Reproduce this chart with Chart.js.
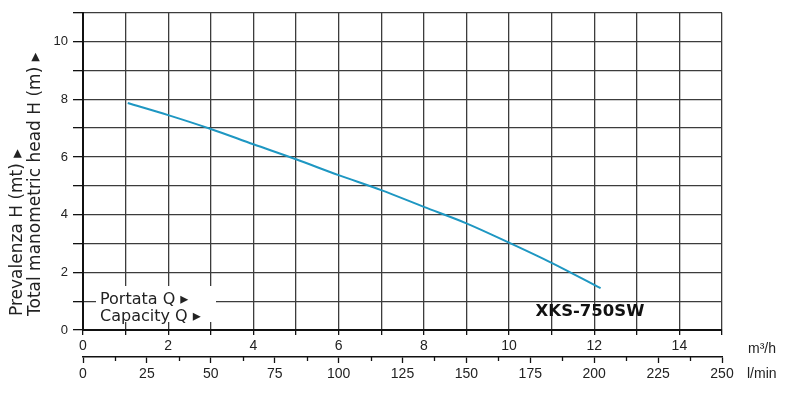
<!DOCTYPE html>
<html><head><meta charset="utf-8">
<script src="https://cdn.jsdelivr.net/npm/chart.js@4"></script>
<style>html,body{margin:0;padding:0;background:#fff}#wrap{width:800px;height:395px}</style>
</head><body><div id="wrap"><canvas id="c" width="800" height="395"></canvas></div>
<script>
// ---- data ----
const flowM3h = [1.05, 2, 3, 4, 5, 6, 7, 8, 9, 10, 11, 12.15];
const headM   = [7.87, 7.45, 6.97, 6.44, 5.92, 5.37, 4.85, 4.27, 3.70, 3.03, 2.33, 1.45];
const m3hTickLabels = [0, 2, 4, 6, 8, 10, 12, 14];
const lminTickLabels = [0, 25, 50, 75, 100, 125, 150, 175, 200, 225, 250];
const headTickLabels = [0, 2, 4, 6, 8, 10];
const yTitleLines = ['Prevalenza H (mt) \u25B8', 'Total manometric head H (m) \u25B8'];
const legendLines = ['Portata Q \u25B8', 'Capacity Q \u25B8'];
const unitLabels = ['m\u00B3/h', 'l/min'];
const modelName = 'XKS-750SW';

const GRID = '#3c3c3c';
const AXIS = '#111';
const TXT = '#222';
const tickFont = {family: 'Liberation Sans, Arial, sans-serif', size: 14};
const titleFamily = '"DejaVu Sans", "Open Sans", sans-serif';

const range = (a, b, s) => { const r = []; for (let v = a; v <= b + 1e-9; v += s) r.push(+v.toFixed(4)); return r; };

const overlay = {
  id: 'overlay',
  afterDraw(chart) {
    const ctx = chart.ctx;
    const x2 = chart.scales.x2;
    ctx.save();
    // minor ticks on l/min axis
    ctx.strokeStyle = AXIS; ctx.lineWidth = 1.3;
    range(12.5, 237.5, 25).forEach(v => {
      const px = Math.round(x2.getPixelForValue(v)) + 0.5;
      ctx.beginPath(); ctx.moveTo(px, x2.top); ctx.lineTo(px, x2.top + 4); ctx.stroke();
    });
    // legend box
    ctx.fillStyle = '#fff';
    ctx.fillRect(96, 286, 120, 36);
    ctx.fillStyle = TXT;
    ctx.font = '16px ' + titleFamily;
    ctx.textAlign = 'left'; ctx.textBaseline = 'alphabetic';
    ctx.fillText(legendLines[0], 100, 304);
    ctx.fillText(legendLines[1], 100, 321);
    // model name
    ctx.font = 'bold 16.5px ' + titleFamily;
    ctx.textAlign = 'center';
    ctx.fillStyle = '#111';
    ctx.fillText(modelName, 590, 316);
    // units
    ctx.font = '14px Liberation Sans, Arial, sans-serif';
    ctx.textAlign = 'left';
    ctx.fillStyle = TXT;
    ctx.fillText(unitLabels[0], 748, 353);
    ctx.fillText(unitLabels[1], 747, 378);
    // y titles
    ctx.font = '17px ' + titleFamily;
    ctx.textBaseline = 'middle';
    const tx = [18, 36];
    yTitleLines.forEach((t, i) => {
      ctx.save();
      ctx.translate(tx[i], 316);
      ctx.rotate(-Math.PI / 2);
      ctx.fillText(t, 0, 0);
      ctx.restore();
    });
    ctx.restore();
  }
};

new Chart(document.getElementById('c'), {
  type: 'line',
  data: {
    datasets: [{
      data: flowM3h.map((q, i) => ({x: q, y: headM[i]})),
      borderColor: '#1e97c2',
      borderWidth: 2,
      pointRadius: 0,
      tension: 0.35,
      cubicInterpolationMode: 'monotone',
      fill: false
    }]
  },
  options: {
    responsive: false,
    animation: false,
    devicePixelRatio: 1,
    layout: {padding: {top: 10, right: 78, left: 0, bottom: 0}},
    plugins: {legend: {display: false}, tooltip: {enabled: false}},
    scales: {
      x: {
        type: 'linear', position: 'bottom', min: 0, max: 15,
        afterBuildTicks: s => { s.ticks = range(0, 15, 1).map(v => ({value: v})); },
        afterFit: s => { s.height = 27; },
        ticks: {autoSkip: false, maxRotation: 0, padding: 3, font: tickFont, color: TXT,
          callback: v => m3hTickLabels.includes(v) ? String(v) : ''},
        grid: {color: GRID, lineWidth: 1.3, tickLength: 5, tickColor: AXIS, tickWidth: 1.3},
        border: {color: AXIS, width: 2}
      },
      x2: {
        type: 'linear', position: 'bottom', min: 0, max: 250,
        afterBuildTicks: s => { s.ticks = range(0, 250, 25).map(v => ({value: v})); },
        afterFit: s => { s.height = 38; },
        ticks: {autoSkip: false, maxRotation: 0, padding: 3, font: tickFont, color: TXT,
          callback: v => lminTickLabels.includes(v) ? String(v) : ''},
        grid: {drawOnChartArea: false, tickLength: 6, tickColor: AXIS, tickWidth: 1.3},
        border: {color: AXIS, width: 1.5}
      },
      y: {
        type: 'linear', position: 'left', min: 0, max: 11,
        afterBuildTicks: s => { s.ticks = range(0, 11, 1).map(v => ({value: v})); },
        afterFit: s => { s.width = 83; },
        ticks: {autoSkip: false, padding: 5, font: {family: 'Liberation Sans, Arial, sans-serif', size: 13}, color: TXT,
          callback: v => headTickLabels.includes(v) ? String(v) : ''},
        grid: {color: GRID, lineWidth: 1.3, tickLength: 10, tickColor: AXIS, tickWidth: 1.3},
        border: {color: AXIS, width: 2}
      }
    }
  },
  plugins: [overlay]
});
</script></body></html>
